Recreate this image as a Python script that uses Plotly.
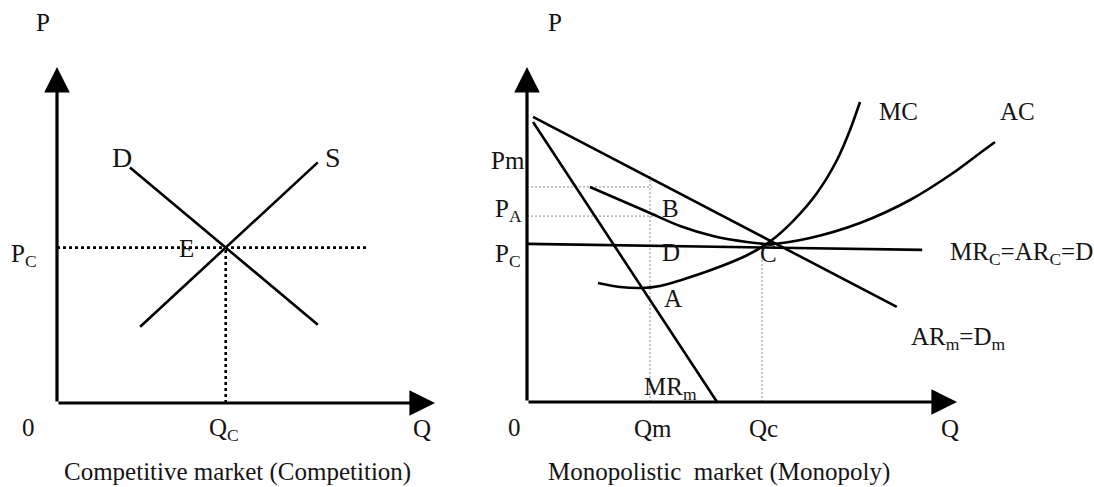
import plotly.graph_objects as go

# ---------------- data (economic units) ----------------
# Competitive market
comp_demand_q = [1.93, 6.90]
comp_demand_p = [7.01, 2.33]
comp_supply_q = [2.20, 6.90]
comp_supply_p = [2.27, 7.16]
comp_price_line_end = 8.2

# Monopoly market
ar_q = [0.14, 8.60]
ar_p = [8.51, 2.84]
mr_q = [0.14, 4.42]
mr_p = [8.36, 0.0]
mrc_q = [0.02, 9.19]
mrc_p = [4.72, 4.54]
mc_q = [1.651, 2.163, 2.674, 3.093, 3.558, 4.326, 5.116, 5.651, 6.186, 6.744, 7.209, 7.512, 7.744]
mc_p = [3.552, 3.433, 3.403, 3.463, 3.630, 3.960, 4.380, 4.790, 5.400, 6.239, 7.224, 8.119, 8.955]
ac_q = [1.465, 2.163, 2.860, 3.558, 4.326, 5.116, 5.651, 6.581, 7.744, 8.907, 9.907, 10.535, 10.884]
ac_p = [6.418, 6.030, 5.642, 5.254, 4.955, 4.776, 4.716, 4.896, 5.343, 6.030, 6.836, 7.433, 7.761]
qm, pm, pa, qc_m, pc_m = 2.86, 6.42, 5.55, 5.465, 4.72
qm_top, pm_end, pa_end = 6.84, 2.91, 3.02
axis_len = 10

# ---------------- layout constants (pixels) ----------------
W, H = 1094, 487
SPLIT = 480
L_ORIG, L_SX, L_SY = (57, 403), 37.8, 33.6
R_ORIG, R_SX, R_SY = (527, 402), 43.0, 33.5

def xr(orig, sx, p0, p1):
    return [(p0 - orig[0]) / sx, (p1 - orig[0]) / sx]

def yr(orig, sy):
    return [(orig[1] - H) / sy, orig[1] / sy]

# equilibrium of competitive market
def intersect(q1, p1, q2, p2):
    m1 = (p1[1] - p1[0]) / (q1[1] - q1[0])
    m2 = (p2[1] - p2[0]) / (q2[1] - q2[0])
    b1 = p1[0] - m1 * q1[0]
    b2 = p2[0] - m2 * q2[0]
    q = (b2 - b1) / (m1 - m2)
    return q, m1 * q + b1

qc, pc = intersect(comp_demand_q, comp_demand_p, comp_supply_q, comp_supply_p)

fig = go.Figure()
solid = dict(color="black", width=2.6)
curve = dict(color="black", width=2.6, shape="spline", smoothing=0.8)

fig.add_trace(go.Scatter(x=comp_demand_q, y=comp_demand_p, mode="lines", line=solid, xaxis="x", yaxis="y"))
fig.add_trace(go.Scatter(x=comp_supply_q, y=comp_supply_p, mode="lines", line=solid, xaxis="x", yaxis="y"))
fig.add_trace(go.Scatter(x=[0, comp_price_line_end], y=[pc, pc], mode="lines",
                         line=dict(color="black", width=2.6, dash="dot"), xaxis="x", yaxis="y"))
fig.add_trace(go.Scatter(x=[qc, qc], y=[0, pc], mode="lines",
                         line=dict(color="black", width=2.6, dash="dot"), xaxis="x", yaxis="y"))

thin = dict(color="#8a8a8a", width=1, dash="2px,2px")
fig.add_trace(go.Scatter(x=[qm, qm], y=[0, qm_top], mode="lines", line=thin, xaxis="x2", yaxis="y2"))
fig.add_trace(go.Scatter(x=[0, pm_end], y=[pm, pm], mode="lines", line=thin, xaxis="x2", yaxis="y2"))
fig.add_trace(go.Scatter(x=[0, pa_end], y=[pa, pa], mode="lines", line=thin, xaxis="x2", yaxis="y2"))
fig.add_trace(go.Scatter(x=[qc_m, qc_m], y=[0, pc_m], mode="lines", line=thin, xaxis="x2", yaxis="y2"))

fig.add_trace(go.Scatter(x=ar_q, y=ar_p, mode="lines", line=solid, xaxis="x2", yaxis="y2"))
fig.add_trace(go.Scatter(x=mr_q, y=mr_p, mode="lines", line=solid, xaxis="x2", yaxis="y2"))
fig.add_trace(go.Scatter(x=mrc_q, y=mrc_p, mode="lines", line=solid, xaxis="x2", yaxis="y2"))
fig.add_trace(go.Scatter(x=mc_q, y=mc_p, mode="lines", line=curve, xaxis="x2", yaxis="y2"))
fig.add_trace(go.Scatter(x=ac_q, y=ac_p, mode="lines", line=curve, xaxis="x2", yaxis="y2"))

annotations = []
# axis arrows
for xref, yref in (("x", "y"), ("x2", "y2")):
    annotations.append(dict(x=0, y=axis_len, ax=0, ay=0, xref=xref, yref=yref, axref=xref, ayref=yref,
                            text="", showarrow=True, arrowhead=2, arrowsize=1.6, arrowwidth=3.2,
                            arrowcolor="black", standoff=0, startstandoff=0))
    annotations.append(dict(x=axis_len, y=0, ax=0, ay=0, xref=xref, yref=yref, axref=xref, ayref=yref,
                            text="", showarrow=True, arrowhead=2, arrowsize=1.6, arrowwidth=3.2,
                            arrowcolor="black", standoff=0, startstandoff=0))

labels = [
    ("P", 43, 22, 25), ("D", 122, 157, 28), ("S", 333, 157, 28), ("E", 186, 248, 25),
    ("P<sub>C</sub>", 24, 255, 25), ("0", 29, 427, 25), ("Q<sub>C</sub>", 224, 429, 25), ("Q", 422, 428, 25),
    ("Competitive market (Competition)", 237, 472, 25),
    ("P", 555, 22, 25), ("Pm", 508, 160, 25), ("P<sub>A</sub>", 508, 210, 25), ("P<sub>C</sub>", 508, 255, 25),
    ("B", 670, 208, 25), ("D", 671, 252, 25), ("C", 768, 254, 25), ("A", 673, 298, 25),
    ("MR<sub>m</sub>", 670, 388, 25), ("0", 514, 427, 25), ("Qm", 653, 428, 25), ("Qc", 763, 428, 25),
    ("Q", 950, 428, 25), ("MC", 898, 112, 25), ("AC", 1017, 112, 25),
    ("MR<sub>C</sub>=AR<sub>C</sub>=D", 1021, 253, 25), ("AR<sub>m</sub>=D<sub>m</sub>", 958, 338, 25),
    ("Monopolistic  market (Monopoly)", 719, 472, 25),
]
for txt, px, py, fs in labels:
    annotations.append(dict(text=txt, x=px / W, y=1 - py / H, xref="paper", yref="paper",
                            xanchor="center", yanchor="middle", showarrow=False,
                            font=dict(family="Liberation Serif", size=fs, color="#141414")))

ax_common = dict(visible=False, showgrid=False, zeroline=False, fixedrange=True)
fig.update_layout(
    width=W, height=H, autosize=False,
    margin=dict(l=0, r=0, t=0, b=0, pad=0),
    paper_bgcolor="white", plot_bgcolor="white",
    showlegend=False,
    xaxis=dict(domain=[0, SPLIT / W], range=xr(L_ORIG, L_SX, 0, SPLIT), **ax_common),
    yaxis=dict(domain=[0, 1], range=yr(L_ORIG, L_SY), **ax_common),
    xaxis2=dict(domain=[SPLIT / W, 1], range=xr(R_ORIG, R_SX, SPLIT, W), anchor="y2", **ax_common),
    yaxis2=dict(domain=[0, 1], range=yr(R_ORIG, R_SY), anchor="x2", **ax_common),
    annotations=annotations,
)

fig.write_html("out.html", config={"displayModeBar": False},
               post_script="document.body.style.margin='0';")
